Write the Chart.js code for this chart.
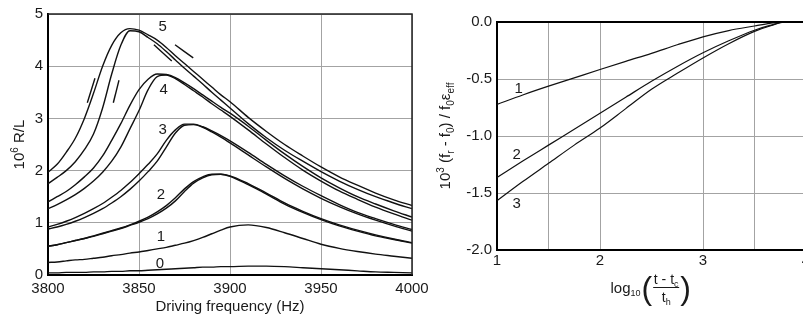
<!DOCTYPE html>
<html>
<head>
<meta charset="utf-8">
<script src="https://cdn.jsdelivr.net/npm/chart.js@4.4.0/dist/chart.umd.min.js"></script>
<style>
  html, body { margin: 0; padding: 0; background: #fff; }
  body { width: 803px; height: 320px; overflow: hidden; position: relative; }
  canvas { position: absolute; top: 0; }
  #left { left: 0; }
  #right { left: 420px; }
</style>
</head>
<body>
<canvas id="left" width="440" height="320"></canvas>
<canvas id="right" width="400" height="320"></canvas>
<script>
// ===== data: left panel (resonance curves, 10^6 R/L vs driving frequency) =====
const freqs = [3800, 3805, 3810, 3815, 3820, 3825, 3830, 3835, 3840, 3845,
               3850, 3855, 3860, 3865, 3870, 3875, 3880, 3885, 3890, 3895,
               3900, 3910, 3920, 3930, 3940, 3950, 3960, 3970, 3980, 3990, 4000];

const curve0  = [0.04, 0.04, 0.05, 0.05, 0.05, 0.06, 0.06, 0.07, 0.07, 0.08,
                 0.08, 0.09, 0.10, 0.11, 0.12, 0.13, 0.14, 0.15, 0.15, 0.16,
                 0.16, 0.17, 0.17, 0.16, 0.14, 0.12, 0.10, 0.08, 0.06, 0.05, 0.04];
const curve1  = [0.24, 0.25, 0.27, 0.29, 0.30, 0.32, 0.34, 0.37, 0.39, 0.42,
                 0.44, 0.47, 0.50, 0.53, 0.57, 0.61, 0.66, 0.72, 0.79, 0.86,
                 0.92, 0.96, 0.91, 0.81, 0.70, 0.59, 0.51, 0.45, 0.40, 0.36, 0.32];
const curve2a = [0.55, 0.58, 0.62, 0.66, 0.70, 0.74, 0.79, 0.84, 0.89, 0.95,
                 1.01, 1.08, 1.17, 1.28, 1.42, 1.60, 1.76, 1.86, 1.92, 1.93,
                 1.90, 1.75, 1.57, 1.38, 1.22, 1.08, 0.96, 0.86, 0.77, 0.69, 0.62];
const curve2b = [0.55, 0.58, 0.62, 0.66, 0.70, 0.75, 0.80, 0.85, 0.90, 0.96,
                 1.03, 1.11, 1.21, 1.33, 1.48, 1.65, 1.79, 1.88, 1.93, 1.93,
                 1.89, 1.73, 1.55, 1.36, 1.20, 1.06, 0.94, 0.84, 0.75, 0.68, 0.61];
const curve3a = [0.92, 0.97, 1.03, 1.10, 1.18, 1.27, 1.37, 1.49, 1.62, 1.77,
                 1.94, 2.12, 2.32, 2.58, 2.78, 2.89, 2.89, 2.84, 2.76, 2.67,
                 2.57, 2.35, 2.12, 1.90, 1.70, 1.52, 1.35, 1.20, 1.08, 0.97, 0.87];
const curve3b = [0.88, 0.92, 0.97, 1.03, 1.10, 1.18, 1.27, 1.38, 1.50, 1.64,
                 1.80, 1.98, 2.18, 2.45, 2.72, 2.87, 2.88, 2.83, 2.74, 2.64,
                 2.53, 2.30, 2.07, 1.85, 1.65, 1.47, 1.31, 1.17, 1.05, 0.94, 0.84];
const curve4a = [1.40, 1.50, 1.60, 1.73, 1.88, 2.05, 2.28, 2.58, 2.90, 3.25,
                 3.55, 3.75, 3.85, 3.84, 3.78, 3.68, 3.57, 3.45, 3.33, 3.21,
                 3.10, 2.85, 2.58, 2.32, 2.08, 1.86, 1.67, 1.50, 1.36, 1.23, 1.11];
const curve4b = [1.27, 1.35, 1.44, 1.54, 1.66, 1.80, 1.97, 2.18, 2.45, 2.80,
                 3.15, 3.55, 3.80, 3.83, 3.76, 3.65, 3.53, 3.41, 3.28, 3.16,
                 3.04, 2.78, 2.51, 2.25, 2.01, 1.80, 1.61, 1.45, 1.30, 1.17, 1.05];
const curve5a = [1.97, 2.12, 2.35, 2.62, 3.00, 3.48, 4.00, 4.40, 4.64, 4.72,
                 4.69, 4.60, 4.50, 4.36, 4.20, 4.05, 3.90, 3.75, 3.60, 3.45,
                 3.32, 3.02, 2.75, 2.50, 2.28, 2.07, 1.88, 1.72, 1.57, 1.44, 1.33];
const curve5b = [1.75, 1.87, 2.00, 2.17, 2.40, 2.70, 3.20, 3.85, 4.40, 4.68,
                 4.66, 4.55, 4.43, 4.28, 4.12, 3.96, 3.81, 3.66, 3.50, 3.35,
                 3.20, 2.90, 2.63, 2.39, 2.18, 1.98, 1.80, 1.64, 1.50, 1.38, 1.27];

// short strokes beside curve 5 showing the sweep direction [freq, value]
const sweepMarks = [
  [[3821.6, 3.30], [3825.8, 3.77]],
  [[3835.9, 3.30], [3839.0, 3.73]],
  [[3858.2, 4.41], [3868.0, 4.10]],
  [[3869.8, 4.41], [3879.8, 4.16]]
];

const leftLabels = ['0', '1', '2', '3', '4', '5'];
const leftLabelAt = [[3861.5, 0.22], [3862, 0.74], [3862, 1.53], [3863, 2.79], [3863.5, 3.55], [3863, 4.76]];

// ===== data: right panel (frequency shift vs log time) =====
const logT   = [1, 1.25, 1.5, 1.75, 2, 2.25, 2.5, 2.75, 3, 3.25, 3.5, 3.65, 3.8, 3.95];
const shift1 = [-0.723, -0.64, -0.563, -0.49, -0.417, -0.345, -0.275, -0.20, -0.13, -0.075, -0.035, -0.012, 0, 0];
const shift2 = [-1.364, -1.22, -1.08, -0.94, -0.80, -0.66, -0.52, -0.39, -0.27, -0.165, -0.072, -0.03, 0, 0];
const shift3 = [-1.568, -1.40, -1.24, -1.08, -0.93, -0.76, -0.59, -0.45, -0.315, -0.19, -0.082, -0.035, 0, 0];

const rightLabels = ['1', '2', '3'];
const rightLabelAt = [[1.21, -0.588], [1.19, -1.164], [1.19, -1.594]];
const rightGridX = [1, 1.5, 2, 3, 3.5, 4];

// ===== helpers =====
const FONT = '"Liberation Sans", Arial, Helvetica, sans-serif';
Chart.defaults.font.family = FONT;
Chart.defaults.font.size = 15;
Chart.defaults.color = '#1a1a1a';

const pts = (xs, ys) => xs.map((x, i) => ({ x, y: ys[i] }));

function line(data, width) {
  return { data, borderColor: '#111', borderWidth: width, pointRadius: 0, fill: false,
           cubicInterpolationMode: 'monotone' };
}

// draw text parts [text, size, dy] centred on (x, y baseline), optionally rotated
function drawRich(ctx, parts, x, y, angle) {
  ctx.save();
  ctx.translate(x, y);
  ctx.rotate(angle || 0);
  ctx.fillStyle = '#1a1a1a';
  ctx.textBaseline = 'alphabetic';
  ctx.textAlign = 'left';
  let total = 0;
  parts.forEach(p => { ctx.font = p[1] + 'px ' + FONT; total += ctx.measureText(p[0]).width; });
  let cx = -total / 2;
  parts.forEach(p => {
    ctx.font = p[1] + 'px ' + FONT;
    ctx.fillText(p[0], cx, p[2]);
    cx += ctx.measureText(p[0]).width;
  });
  ctx.restore();
}

const framePlugin = {
  id: 'frame',
  afterDraw(chart, args, opts) {
    const { ctx, chartArea: a } = chart;
    ctx.save();
    ctx.strokeStyle = opts.color;
    ctx.lineWidth = opts.width;
    ctx.beginPath();
    ctx.moveTo(a.left, a.top);
    ctx.lineTo(a.right, a.top);
    if (opts.right) ctx.lineTo(a.right, a.bottom);
    ctx.stroke();
    ctx.restore();
  }
};

function axisStyle(extra) {
  return Object.assign({
    type: 'linear',
    grid: { color: '#a3a3a3', lineWidth: 1, drawTicks: false },
    border: { display: true, color: '#000', width: 2 }
  }, extra);
}

// ===== left chart =====
const leftDatasets = [curve0, curve1, curve2a, curve2b, curve3a, curve3b, curve4a, curve4b, curve5a, curve5b]
  .map(ys => line(pts(freqs, ys), 1.4));
sweepMarks.forEach(m => leftDatasets.push(line(m.map(p => ({ x: p[0], y: p[1] })), 1.4)));

new Chart(document.getElementById('left'), {
  type: 'line',
  data: { datasets: leftDatasets },
  options: {
    responsive: false, animation: false, devicePixelRatio: 1,
    layout: { padding: { top: 12, right: 28, left: 0, bottom: 0 } },
    plugins: { legend: { display: false }, tooltip: { enabled: false },
               frame: { color: '#222', width: 1.5, right: true } },
    scales: {
      x: axisStyle({ min: 3800, max: 4000,
        ticks: { stepSize: 50, padding: 5, maxRotation: 0, callback: v => String(v) },
        afterFit: s => { s.height = 45; } }),
      y: axisStyle({ min: 0, max: 5,
        ticks: { stepSize: 1, padding: 5, callback: v => String(v) },
        afterFit: s => { s.width = 48; } })
    }
  },
  plugins: [framePlugin, {
    id: 'leftText',
    afterDraw(chart) {
      const { ctx, scales: { x, y } } = chart;
      ctx.save();
      ctx.fillStyle = '#1a1a1a';
      ctx.font = '15px ' + FONT;
      ctx.textAlign = 'center';
      ctx.textBaseline = 'middle';
      leftLabels.forEach((t, i) => {
        ctx.fillText(t, x.getPixelForValue(leftLabelAt[i][0]), y.getPixelForValue(leftLabelAt[i][1]));
      });
      ctx.restore();
      drawRich(ctx, [['Driving frequency (Hz)', 15, 0]], x.getPixelForValue(3900), 311, 0);
      drawRich(ctx, [['10', 15, 0], ['6', 10, -6], [' R/L', 15, 0]], 24, (y.top + y.bottom) / 2, -Math.PI / 2);
    }
  }]
});

// ===== right chart =====
new Chart(document.getElementById('right'), {
  type: 'line',
  data: { datasets: [shift1, shift2, shift3].map(ys => line(pts(logT, ys), 1.2)) },
  options: {
    responsive: false, animation: false, devicePixelRatio: 1,
    layout: { padding: { top: 22, right: 14, left: 0, bottom: 0 } },
    plugins: { legend: { display: false }, tooltip: { enabled: false },
               frame: { color: '#000', width: 2, right: false } },
    scales: {
      x: axisStyle({ min: 1, max: 4,
        afterBuildTicks: s => { s.ticks = rightGridX.map(v => ({ value: v })); },
        ticks: { padding: 2, maxRotation: 0, autoSkip: false,
                 callback: v => Number.isInteger(v) ? String(v) : '' },
        afterFit: s => { s.height = 70; } }),
      y: axisStyle({ min: -2, max: 0,
        ticks: { stepSize: 0.5, padding: 5, callback: v => (v === 0 ? 0 : v).toFixed(1) },
        afterFit: s => { s.width = 77; } })
    }
  },
  plugins: [framePlugin, {
    id: 'rightText',
    afterDraw(chart) {
      const { ctx, scales: { x, y } } = chart;
      ctx.save();
      ctx.fillStyle = '#1a1a1a';
      ctx.font = '15px ' + FONT;
      ctx.textAlign = 'center';
      ctx.textBaseline = 'middle';
      rightLabels.forEach((t, i) => {
        ctx.fillText(t, x.getPixelForValue(rightLabelAt[i][0]), y.getPixelForValue(rightLabelAt[i][1]));
      });
      ctx.restore();

      // y title: 10^3 (f_r - f_0) / f_0 eps_eff
      drawRich(ctx, [['10', 15, 0], ['3', 10, -6], [' (f', 15, 0], ['r', 10, 4], [' - f', 15, 0], ['0', 10, 4],
                     [') / f', 15, 0], ['0', 10, 4], ['\u03b5', 15, 0], ['eff', 10, 4]],
               30, (y.top + y.bottom) / 2, -Math.PI / 2);

      // x title: log10((t - t_c) / t_h)
      const cx = x.getPixelForValue(2.5);
      ctx.save();
      ctx.fillStyle = '#1a1a1a';
      ctx.textBaseline = 'alphabetic';
      ctx.textAlign = 'left';
      let px = cx - 41;
      ctx.font = '15px ' + FONT; ctx.fillText('log', px, 293); px += ctx.measureText('log').width;
      ctx.font = '9px ' + FONT; ctx.fillText('10', px, 296); px += ctx.measureText('10').width + 1;
      ctx.font = '32px ' + FONT; ctx.fillText('(', px, 299); px += ctx.measureText('(').width + 1;
      ctx.restore();
      const fx = px + 13;
      drawRich(ctx, [['t - t', 14, 0], ['c', 9, 3]], fx, 284, 0);
      ctx.save();
      ctx.strokeStyle = '#1a1a1a';
      ctx.lineWidth = 1;
      ctx.beginPath(); ctx.moveTo(fx - 13, 287.5); ctx.lineTo(fx + 13, 287.5); ctx.stroke();
      ctx.restore();
      drawRich(ctx, [['t', 14, 0], ['h', 9, 3]], fx, 302, 0);
      ctx.save();
      ctx.fillStyle = '#1a1a1a';
      ctx.font = '32px ' + FONT;
      ctx.fillText(')', fx + 14, 299);
      ctx.restore();
    }
  }]
});
</script>
</body>
</html>
